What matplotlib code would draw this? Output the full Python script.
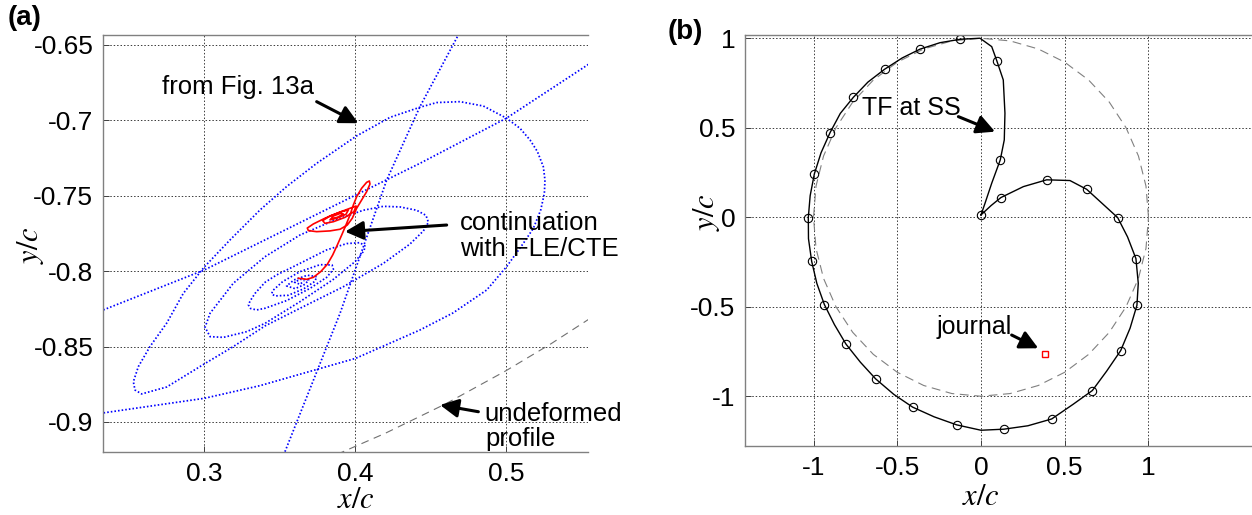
import matplotlib
matplotlib.use("Agg")
import matplotlib.pyplot as plt

plt.rcParams.update({
    "font.family": ["Liberation Sans", "DejaVu Sans"],
    "font.size": 18,
    "mathtext.fontset": "stix",
    "axes.unicode_minus": False,
    "xtick.direction": "in",
    "ytick.direction": "in",
})

# ---------------- panel (a) data ----------------
# outer spiral loop of the Fig. 13a trajectory (blue dotted)
spiral_x = [0.2311, 0.3002, 0.3371, 0.4004, 0.4430, 0.4649, 0.4872, 0.5004, 0.5115, 0.5181,
            0.5230, 0.5254, 0.5258, 0.5247, 0.5208, 0.5159, 0.5093, 0.5004, 0.4850, 0.4695,
            0.4541, 0.4430, 0.4232, 0.4011, 0.3746, 0.3547, 0.3371, 0.3172, 0.3002, 0.2863,
            0.2753, 0.2642, 0.2565, 0.2532, 0.2543, 0.2587,
            0.2753, 0.3002, 0.3194, 0.3404, 0.3658, 0.3923, 0.4188, 0.4364, 0.4453, 0.4486,
            0.4470, 0.4408, 0.4298, 0.4188, 0.4055, 0.3857, 0.3636, 0.3404, 0.3194, 0.3040, 0.3007,
            0.3040, 0.3128, 0.3283, 0.3404, 0.3636, 0.3857, 0.4000, 0.4060, 0.4066,
            0.4033, 0.3945, 0.3812, 0.3636, 0.3481, 0.3404, 0.3338, 0.3305, 0.3294,
            0.3309, 0.3349, 0.3404, 0.3547, 0.3702, 0.3812, 0.3857,
            0.3848, 0.3768, 0.3636, 0.3521, 0.3455, 0.3448,
            0.3470, 0.3558, 0.3662, 0.3735, 0.3746,
            0.3684, 0.3596, 0.3547, 0.3603, 0.3669, 0.3693, 0.3636, 0.3600, 0.3636, 0.3662]
spiral_y = [-0.8943, -0.8843, -0.8759, -0.8578, -0.8390, -0.8277, -0.8125, -0.7970, -0.7815, -0.7716,
            -0.7594, -0.7484, -0.7395, -0.7307, -0.7207, -0.7130, -0.7053, -0.6986, -0.6905, -0.6876,
            -0.6882, -0.6913, -0.6980, -0.7103, -0.7285, -0.7439, -0.7594, -0.7793, -0.7972, -0.8147,
            -0.8344, -0.8500, -0.8633, -0.8733, -0.8788, -0.8814,
            -0.8768, -0.8615, -0.8500, -0.8363, -0.8235, -0.8103, -0.7948, -0.7820, -0.7733, -0.7676,
            -0.7630, -0.7596, -0.7574, -0.7570, -0.7596, -0.7665, -0.7760, -0.7904, -0.8080, -0.8279, -0.8372,
            -0.8434, -0.8439, -0.8401, -0.8346, -0.8202, -0.8054, -0.7937, -0.7864, -0.7833,
            -0.7811, -0.7817, -0.7859, -0.7948, -0.8025, -0.8074, -0.8147, -0.8198, -0.8224,
            -0.8248, -0.8257, -0.8246, -0.8195, -0.8114, -0.8041, -0.7988,
            -0.7959, -0.7957, -0.8003, -0.8069, -0.8129, -0.8151,
            -0.8164, -0.8160, -0.8116, -0.8067, -0.8036,
            -0.8027, -0.8058, -0.8098, -0.8116, -0.8087, -0.8058, -0.8054, -0.8074, -0.8087, -0.8065]

# steep branch of an earlier loop
steep_x = [0.3536, 0.3901, 0.4210, 0.4430, 0.4684]
steep_y = [-0.9197, -0.8279, -0.7395, -0.6909, -0.6434]

# long rising branch of an earlier loop
rise_x = [0.2333, 0.3002, 0.4011, 0.4430, 0.5002, 0.5556]
rise_y = [-0.8257, -0.7992, -0.7492, -0.7285, -0.6986, -0.6622]

# continuation with FLE/CTE (red)
cont_x = [0.3625, 0.3680, 0.3724, 0.3773, 0.3817, 0.3852, 0.3883, 0.3912, 0.3940, 0.3967,
          0.3989, 0.4011, 0.4044, 0.4077, 0.4095, 0.4099, 0.4077, 0.4044, 0.4011, 0.3982,
          0.3949, 0.3901, 0.3834, 0.3746, 0.3691, 0.3684, 0.3724, 0.3801, 0.3890, 0.3967,
          0.4007, 0.3993, 0.3934, 0.3857, 0.3801, 0.3786, 0.3834, 0.3912, 0.3956, 0.3940,
          0.3879, 0.3834, 0.3857, 0.3905, 0.3923, 0.3883, 0.3857]
cont_y = [-0.8047, -0.8054, -0.8041, -0.8003, -0.7954, -0.7893, -0.7826, -0.7760, -0.7694, -0.7627,
          -0.7561, -0.7506, -0.7450, -0.7411, -0.7402, -0.7422, -0.7473, -0.7528, -0.7583, -0.7649,
          -0.7694, -0.7722, -0.7733, -0.7738, -0.7731, -0.7714, -0.7687, -0.7649, -0.7612, -0.7583,
          -0.7568, -0.7605, -0.7643, -0.7672, -0.7683, -0.7665, -0.7634, -0.7605, -0.7594, -0.7623,
          -0.7649, -0.7660, -0.7634, -0.7616, -0.7621, -0.7643, -0.7649]

# undeformed profile (unit circle arc)
prof_a_x = [0.38, 0.42, 0.46, 0.50, 0.53, 0.56]
prof_a_y = [-0.925, -0.9075, -0.888, -0.866, -0.848, -0.8285]

# ---------------- panel (b) data ----------------
tf_x = [0.0, 0.06, 0.119, 0.253, 0.392, 0.531, 0.631, 0.72, 0.816, 0.875, 0.925, 0.939, 0.931,
        0.89, 0.834, 0.75, 0.665, 0.55, 0.422, 0.28, 0.137, 0.0, -0.145, -0.28, -0.408, -0.52,
        -0.629, -0.72, -0.806, -0.875, -0.935, -0.98, -1.011, -1.03, -1.031, -1.02, -0.995,
        -0.955, -0.901, -0.84, -0.762, -0.675, -0.575, -0.47, -0.364, -0.245, -0.125, -0.006,
        0.064, 0.094, 0.133, 0.143, 0.139, 0.115, 0.064, 0.024, 0.0]
tf_y = [0.013, 0.065, 0.110, 0.171, 0.209, 0.205, 0.156, 0.08, -0.002, -0.11, -0.231, -0.369, -0.492,
        -0.62, -0.745, -0.86, -0.968, -1.045, -1.127, -1.165, -1.184, -1.19, -1.160, -1.115, -1.061, -0.99,
        -0.903, -0.81, -0.709, -0.60, -0.488, -0.37, -0.246, -0.12, -0.002, 0.12, 0.242,
        0.36, 0.473, 0.58, 0.670, 0.755, 0.827, 0.89, 0.939, 0.975, 0.994, 1.0,
        0.953, 0.875, 0.767, 0.581, 0.432, 0.320, 0.190, 0.078, 0.013]

mark_x = [0.0, 0.119, 0.392, 0.631, 0.816, 0.925, 0.931, 0.834, 0.665, 0.422, 0.137, -0.145,
          -0.408, -0.629, -0.806, -0.935, -1.011, -1.031, -0.995, -0.901, -0.762, -0.575,
          -0.364, -0.125, 0.094, 0.115]
mark_y = [0.013, 0.110, 0.209, 0.156, -0.002, -0.231, -0.492, -0.745, -0.968, -1.127, -1.184,
          -1.160, -1.061, -0.903, -0.709, -0.488, -0.246, -0.002, 0.242, 0.473, 0.670, 0.827,
          0.939, 0.994, 0.875, 0.320]

circ_x = [1.0, 0.985, 0.940, 0.866, 0.766, 0.643, 0.5, 0.342, 0.174, 0.0, -0.174, -0.342, -0.5,
          -0.643, -0.766, -0.866, -0.940, -0.985, -1.0, -0.985, -0.940, -0.866, -0.766, -0.643,
          -0.5, -0.342, -0.174, 0.0, 0.174, 0.342, 0.5, 0.643, 0.766, 0.866, 0.940, 0.985, 1.0]
circ_y = [0.0, 0.174, 0.342, 0.5, 0.643, 0.766, 0.866, 0.940, 0.985, 1.0, 0.985, 0.940, 0.866,
          0.766, 0.643, 0.5, 0.342, 0.174, 0.0, -0.174, -0.342, -0.5, -0.643, -0.766,
          -0.866, -0.940, -0.985, -1.0, -0.985, -0.940, -0.866, -0.766, -0.643, -0.5, -0.342,
          -0.174, 0.0]

journal_x = [0.382]
journal_y = [-0.763]

blue = "#0000FF"
dots = (0, (0.9, 1.2))
gridc = "#3a3a3a"
arrow = dict(arrowstyle="-|>,head_length=0.55,head_width=0.28", color="k", lw=2.2,
             mutation_scale=20, shrinkA=0, shrinkB=0)


def style(ax):
    ax.grid(True, color=gridc, linestyle=(0, (1.5, 2.0)), linewidth=0.7)
    for s in ["top", "left", "bottom"]:
        ax.spines[s].set_color("#808080")
        ax.spines[s].set_linewidth(1.0)
    ax.spines["right"].set_visible(False)
    ax.tick_params(length=4, width=0.7, color="#404040", labelsize=19, pad=7)


def labels(ax, xc, yc):
    ax.set_xlabel("$x/c$", fontsize=22, va="center", ha="center")
    ax.xaxis.set_label_coords(*xc)
    ax.set_ylabel("$y/c$", fontsize=22, va="center", ha="center")
    ax.yaxis.set_label_coords(*yc)


fig = plt.figure(figsize=(12.52, 5.15), dpi=100)

# ---- (a)
ax = fig.add_axes([103 / 1252, 63 / 515, 485 / 1252, 417 / 515])
ax.plot(spiral_x, spiral_y, color=blue, linestyle=dots, lw=1.25)
ax.plot(steep_x, steep_y, color=blue, linestyle=dots, lw=1.25)
ax.plot(rise_x, rise_y, color=blue, linestyle=dots, lw=1.25)
ax.plot(prof_a_x, prof_a_y, color="#707070", linestyle=(0, (7, 5)), lw=0.8)
ax.plot(cont_x, cont_y, color="red", lw=1.2, zorder=5)
ax.set_xlim(0.2331, 0.5543)
ax.set_ylim(-0.9199, -0.6434)
ax.set_xticks([0.3, 0.4, 0.5])
ax.set_xticklabels(["0.3", "0.4", "0.5"])
ax.set_yticks([-0.9, -0.85, -0.8, -0.75, -0.7, -0.65])
ax.set_yticklabels(["-0.9", "-0.85", "-0.8", "-0.75", "-0.7", "-0.65"])
style(ax)
labels(ax, (0.522, -0.115), (-0.15, 0.496))

ax.text(0.272, -0.678, "from Fig. 13a", ha="left", va="center", fontsize=18.5)
ax.annotate("", xy=(0.4022, -0.7019), xytext=(0.3746, -0.6876), arrowprops=arrow)
ax.text(0.4695, -0.7767, "continuation\nwith FLE/CTE", ha="left", va="center",
        fontsize=18.5, linespacing=1.15, clip_on=False)
ax.annotate("", xy=(0.3934, -0.7738), xytext=(0.4607, -0.7694), arrowprops=arrow)
ax.text(0.486, -0.9027, "undeformed\nprofile", ha="left", va="center",
        fontsize=18.5, linespacing=1.05, clip_on=False)
ax.annotate("", xy=(0.4563, -0.8887), xytext=(0.4817, -0.8932), arrowprops=arrow)

fig.text(8 / 1252, 1 - 18 / 515, "(a)", fontsize=20, fontweight="bold", va="center")

# ---- (b)
bx = fig.add_axes([745 / 1252, 69 / 515, 507 / 1252, 411 / 515])
bx.plot(circ_x, circ_y, color="#808080", linestyle=(0, (8, 5)), lw=0.8)
bx.plot(tf_x, tf_y, color="k", lw=1.0)
bx.plot(mark_x, mark_y, linestyle="none", marker="o", ms=6, mfc="none", mec="k", mew=0.8)
bx.plot(journal_x, journal_y, linestyle="none", marker="s", ms=5, mfc="none", mec="red", mew=1.0)
bx.set_xlim(-1.409, 1.618)
bx.set_ylim(-1.278, 1.018)
bx.set_xticks([-1, -0.5, 0, 0.5, 1])
bx.set_xticklabels(["-1", "-0.5", "0", "0.5", "1"])
bx.set_yticks([-1, -0.5, 0, 0.5, 1])
bx.set_yticklabels(["-1", "-0.5", "0", "0.5", "1"])
style(bx)
labels(bx, (0.465, -0.124), (-0.075, 0.569))

bx.text(-0.71, 0.611, "TF at SS", ha="left", va="center", fontsize=18)
bx.annotate("", xy=(0.084, 0.478), xytext=(-0.135, 0.562), arrowprops=arrow)
bx.text(-0.264, -0.611, "journal", ha="left", va="center", fontsize=18)
bx.annotate("", xy=(0.342, -0.732), xytext=(0.183, -0.658), arrowprops=arrow)

fig.text(668 / 1252, 1 - 32 / 515, "(b)", fontsize=20, fontweight="bold", va="center")

fig.savefig("out.png", dpi=100)
